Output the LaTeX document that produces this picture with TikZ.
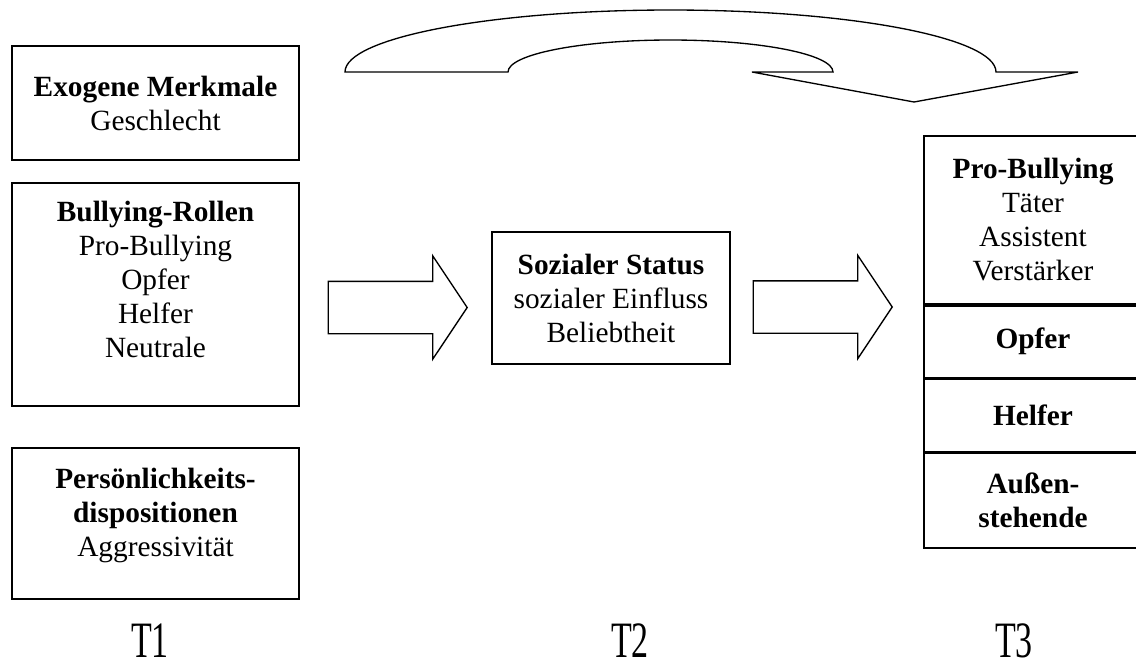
\documentclass[tikz,border=0pt]{standalone}
\usepackage{fontspec}
\setmainfont{Liberation Serif}
\usetikzlibrary{positioning,shapes.arrows}
\newcommand{\px}{0.75pt}

\begin{document}
\begin{tikzpicture}[x=0.75pt, y=-0.75pt,
    box/.style={draw, line width=1.3pt, align=center, inner sep=2pt,
        font=\fontsize{22}{25.5}\selectfont, minimum width=287*\px},
    cell/.style={box, minimum width=218*\px},
    bigarrow/.style={single arrow, draw, line width=1pt, inner xsep=0pt, inner ysep=25.5*\px,
        minimum height=139*\px, single arrow head extend=25.5*\px, single arrow tip angle=112.6},
    tlabel/.style={font=\fontsize{25.5}{30}\selectfont, anchor=base, inner sep=0pt}]
    \useasboundingbox (0,0) rectangle (1136,669);

    % T1
    \node[box, minimum height=114*\px] (exo) at (155.5,103) {\textbf{Exogene Merkmale}\\Geschlecht};
    \node[box, minimum height=223*\px] (rollen) at (155.5,294.5)
        {\textbf{Bullying-Rollen}\\Pro-Bullying\\Opfer\\Helfer\\Neutrale\\[-2.5pt]\mbox{}};
    \node[box, minimum height=151*\px] (pers) at (155.5,523.5)
        {\textbf{Persönlichkeits-}\\\textbf{dispositionen}\\Aggressivität\\[-8.5pt]\mbox{}};

    % T2
    \node[box, minimum width=238*\px, minimum height=132*\px] (status) at (611,298)
        {\textbf{Sozialer Status}\\sozialer Einfluss\\Beliebtheit};

    % T3
    \node[cell, minimum height=168*\px] (pro) at (1033,220) {\textbf{Pro-Bullying}\\Täter\\Assistent\\Verstärker};
    \node[cell, minimum height=72*\px, below=0pt of pro] (opfer) {\textbf{Opfer}};
    \node[cell, minimum height=72*\px, below=0pt of opfer] (helfer) {\textbf{Helfer}};
    \node[cell, minimum height=95*\px, below=0pt of helfer] (aussen) {\textbf{Außen-}\\\textbf{stehende}};

    % Pfeile
    \node[bigarrow, anchor=tip] (pfeilA) at (468,307.5) {};
    \node[bigarrow, anchor=tip] (pfeilB) at (893,307) {};

    % Bogenpfeil
    \draw[line width=1pt] (345,72) arc[start angle=180, end angle=360, x radius=325.5, y radius=62]
        -- (1078,72) -- (914,102) -- (752,72) -- (833,72)
        arc[start angle=0, end angle=-180, x radius=162.5, y radius=32] -- cycle;

    % Zeitpunkte
    \node[tlabel] (t1) at (150,657) {\scalebox{1}[1.5]{T1}};
    \node[tlabel] (t2) at (630,657) {\scalebox{1}[1.5]{T2}};
    \node[tlabel] (t3) at (1014,657) {\scalebox{1}[1.5]{T3}};
\end{tikzpicture}
\end{document}
